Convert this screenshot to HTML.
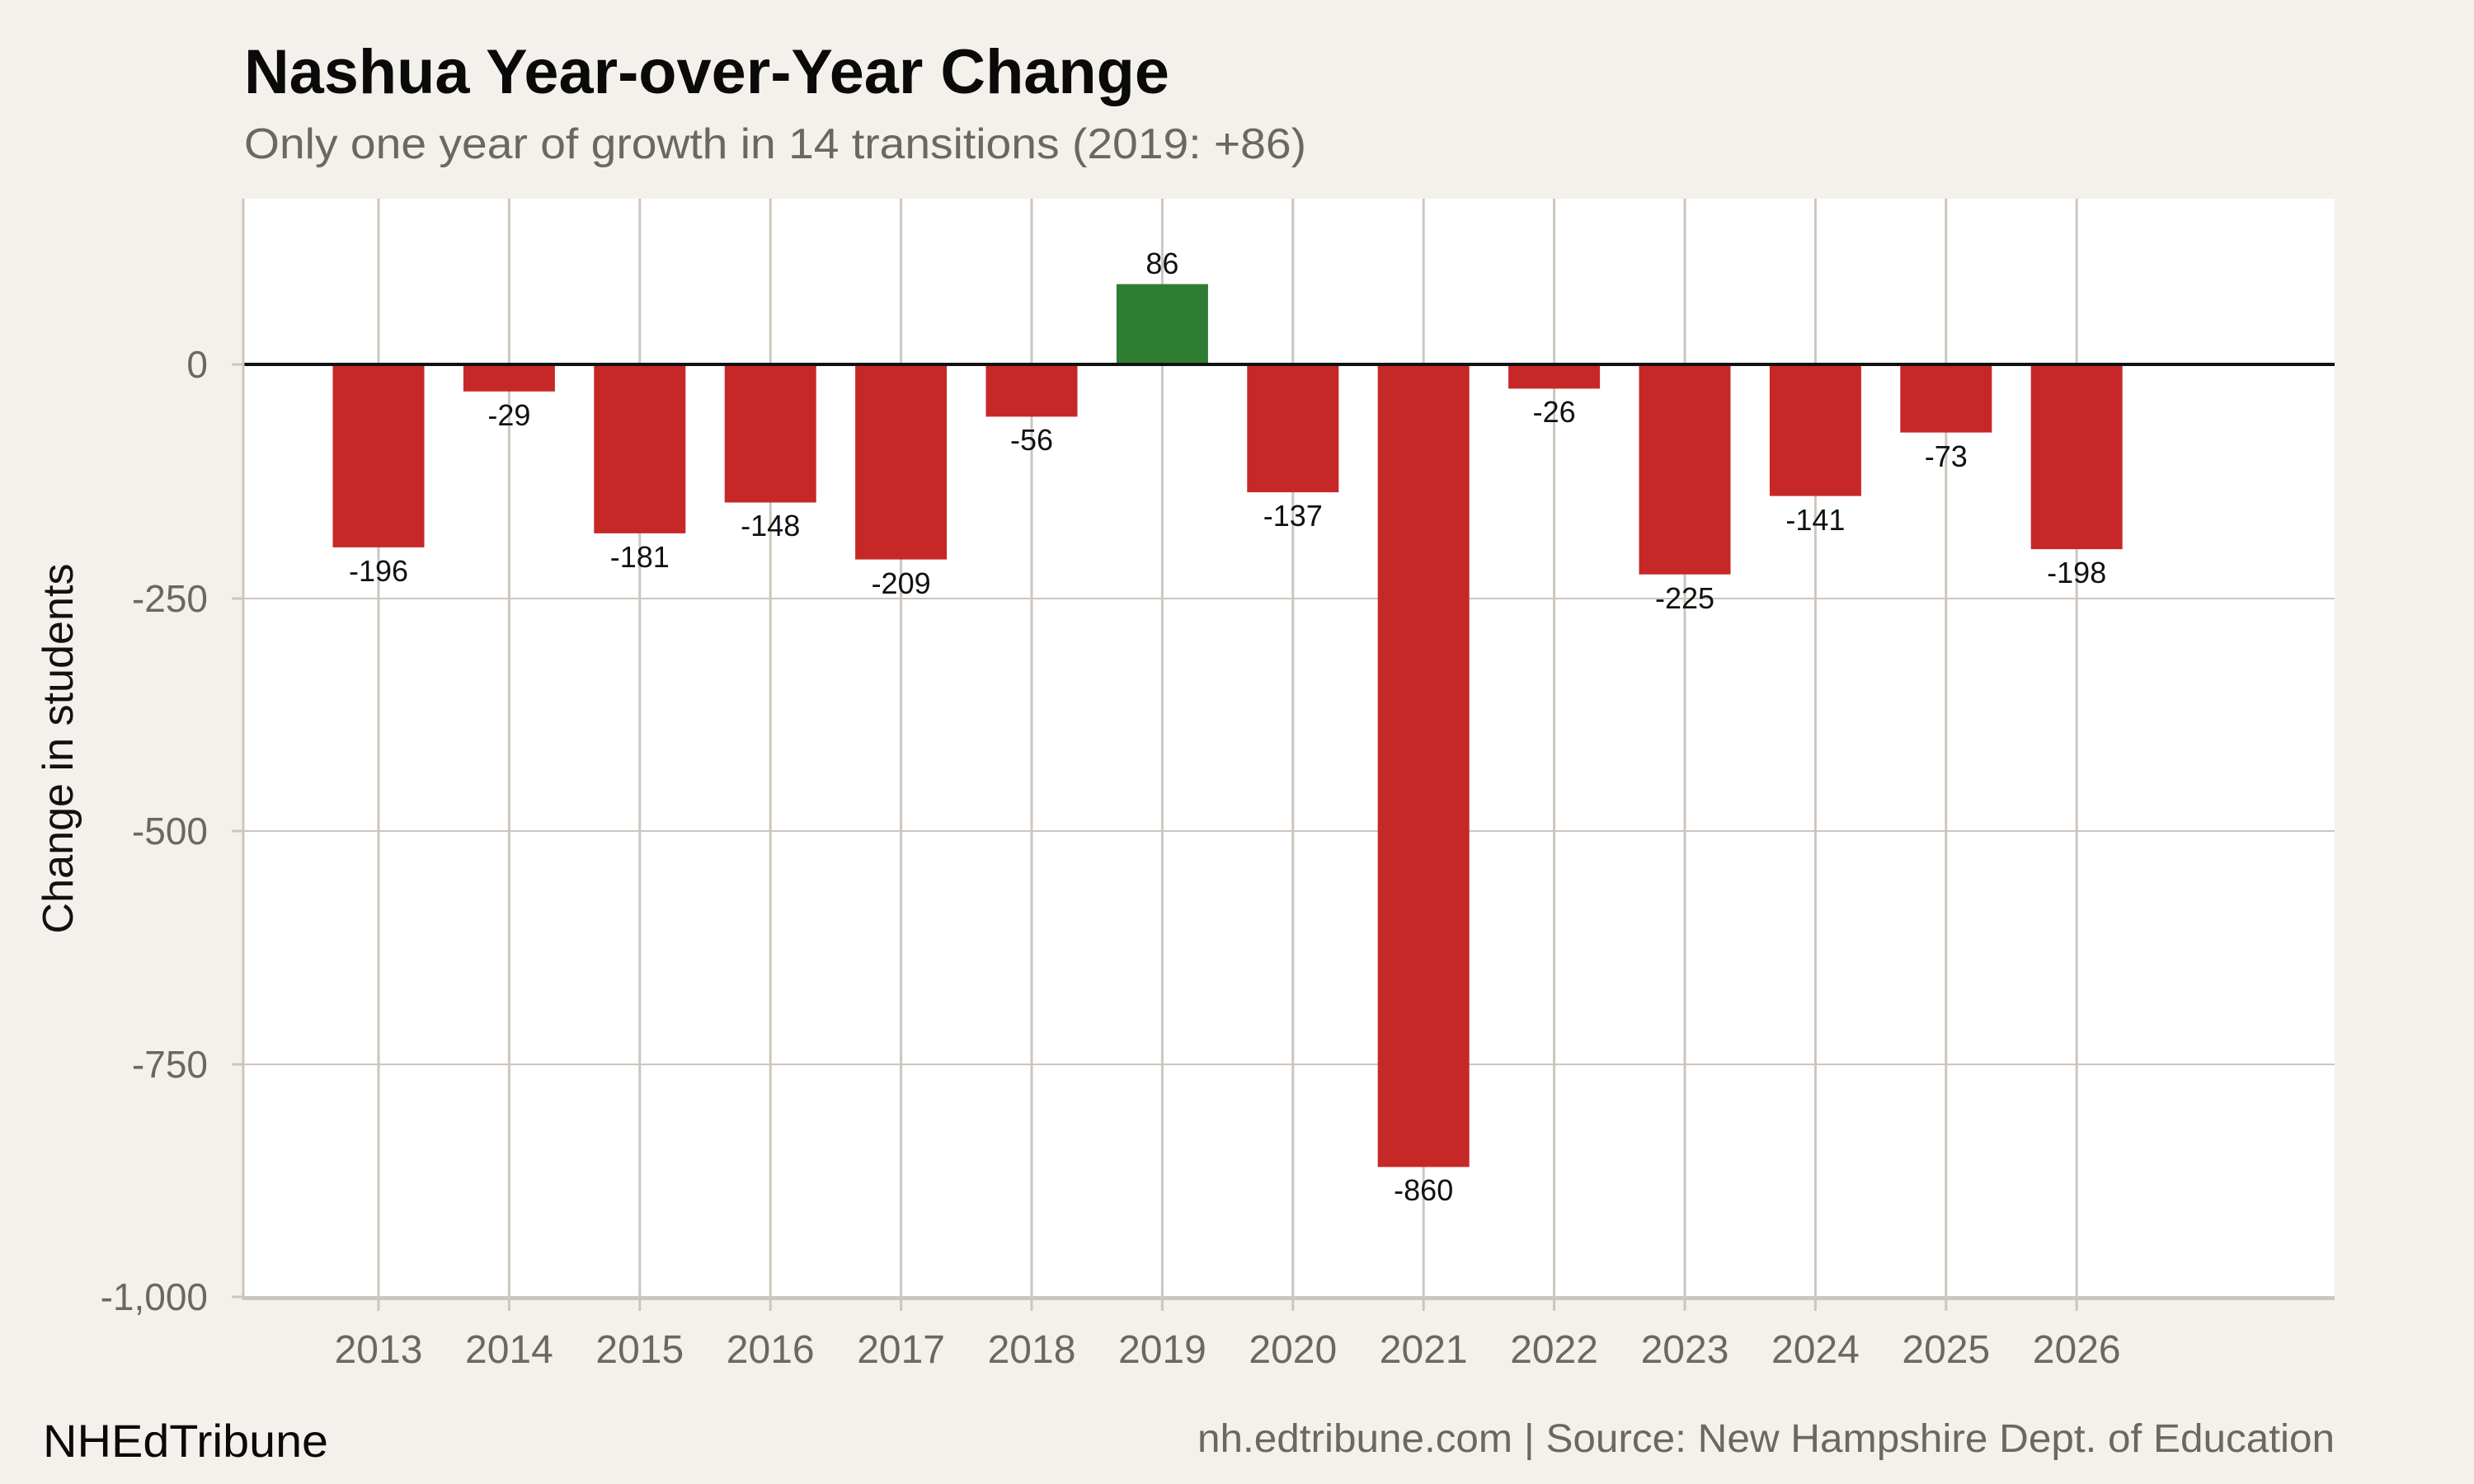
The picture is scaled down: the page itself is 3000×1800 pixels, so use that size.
<!DOCTYPE html>
<html><head><meta charset="utf-8"><style>
html,body{margin:0;padding:0;background:#f4f1ec;}
svg{display:block;font-family:"Liberation Sans",Arial,sans-serif;}
</style></head><body>
<svg width="3000" height="1800" viewBox="0 0 3000 1800" xmlns="http://www.w3.org/2000/svg">
<rect width="3000" height="1800" fill="#f4f1ec"/>
<text x="296" y="113" font-size="76" font-weight="bold" fill="#0a0a0a" textLength="1122" lengthAdjust="spacingAndGlyphs">Nashua Year-over-Year Change</text>
<text x="296" y="192" font-size="52" fill="#6b6862" textLength="1288" lengthAdjust="spacingAndGlyphs">Only one year of growth in 14 transitions (2019: +86)</text>
<rect x="296" y="241" width="2535" height="1333" fill="#ffffff"/>
<g stroke="#ccc6bd" stroke-width="2">
<line x1="296" y1="726" x2="2831" y2="726"/>
<line x1="296" y1="1008" x2="2831" y2="1008"/>
<line x1="296" y1="1291" x2="2831" y2="1291"/>
</g>
<g stroke="#ccc6bd" stroke-width="3">
<line x1="459" y1="241" x2="459" y2="1590"/>
<line x1="617.4" y1="241" x2="617.4" y2="1590"/>
<line x1="775.8" y1="241" x2="775.8" y2="1590"/>
<line x1="934.2" y1="241" x2="934.2" y2="1590"/>
<line x1="1092.6" y1="241" x2="1092.6" y2="1590"/>
<line x1="1251" y1="241" x2="1251" y2="1590"/>
<line x1="1409.4" y1="241" x2="1409.4" y2="1590"/>
<line x1="1567.8" y1="241" x2="1567.8" y2="1590"/>
<line x1="1726.2" y1="241" x2="1726.2" y2="1590"/>
<line x1="1884.6" y1="241" x2="1884.6" y2="1590"/>
<line x1="2043" y1="241" x2="2043" y2="1590"/>
<line x1="2201.4" y1="241" x2="2201.4" y2="1590"/>
<line x1="2359.8" y1="241" x2="2359.8" y2="1590"/>
<line x1="2518.2" y1="241" x2="2518.2" y2="1590"/>
</g>
<g fill="#c62828">
<rect x="403.5" y="442" width="111" height="221.9"/>
<rect x="561.9" y="442" width="111" height="32.8"/>
<rect x="720.3" y="442" width="111" height="204.9"/>
<rect x="878.7" y="442" width="111" height="167.5"/>
<rect x="1037.1" y="442" width="111" height="236.6"/>
<rect x="1195.5" y="442" width="111" height="63.4"/>
<rect x="1512.3" y="442" width="111" height="155.1"/>
<rect x="1670.7" y="442" width="111" height="973.5"/>
<rect x="1829.1" y="442" width="111" height="29.4"/>
<rect x="1987.5" y="442" width="111" height="254.7"/>
<rect x="2145.9" y="442" width="111" height="159.6"/>
<rect x="2304.3" y="442" width="111" height="82.6"/>
<rect x="2462.7" y="442" width="111" height="224.1"/>
</g>
<rect x="1353.9" y="344.6" width="111" height="97.4" fill="#2e7d32"/>
<line x1="296" y1="442" x2="2831" y2="442" stroke="#111" stroke-width="4"/>
<line x1="295" y1="241" x2="295" y2="1577" stroke="#ccc6bd" stroke-width="3"/>
<rect x="296" y="1572" width="2535" height="5" fill="#cdc6bc"/>
<g stroke="#ccc6bd" stroke-width="3">
<line x1="281" y1="442" x2="296" y2="442"/>
<line x1="281" y1="726" x2="296" y2="726"/>
<line x1="281" y1="1008" x2="296" y2="1008"/>
<line x1="281" y1="1291" x2="296" y2="1291"/>
<line x1="281" y1="1573" x2="296" y2="1573"/>
</g>
<g font-size="46" fill="#6b6862" text-anchor="end">
<text x="252" y="458">0</text>
<text x="252" y="742">-250</text>
<text x="252" y="1024">-500</text>
<text x="252" y="1307">-750</text>
<text x="252" y="1589">-1,000</text>
</g>
<text transform="translate(88,908) rotate(-90)" font-size="52" fill="#111" text-anchor="middle" textLength="449" lengthAdjust="spacingAndGlyphs">Change in students</text>
<g font-size="48" fill="#6b6862" text-anchor="middle">
<text x="459" y="1653">2013</text>
<text x="617.4" y="1653">2014</text>
<text x="775.8" y="1653">2015</text>
<text x="934.2" y="1653">2016</text>
<text x="1092.6" y="1653">2017</text>
<text x="1251" y="1653">2018</text>
<text x="1409.4" y="1653">2019</text>
<text x="1567.8" y="1653">2020</text>
<text x="1726.2" y="1653">2021</text>
<text x="1884.6" y="1653">2022</text>
<text x="2043" y="1653">2023</text>
<text x="2201.4" y="1653">2024</text>
<text x="2359.8" y="1653">2025</text>
<text x="2518.2" y="1653">2026</text>
</g>
<g font-size="36" fill="#111" text-anchor="middle">
<text x="459" y="705">-196</text>
<text x="617.4" y="516">-29</text>
<text x="775.8" y="688">-181</text>
<text x="934.2" y="650">-148</text>
<text x="1092.6" y="720">-209</text>
<text x="1251" y="546">-56</text>
<text x="1409.4" y="332">86</text>
<text x="1567.8" y="638">-137</text>
<text x="1726.2" y="1456">-860</text>
<text x="1884.6" y="512">-26</text>
<text x="2043" y="738">-225</text>
<text x="2201.4" y="643">-141</text>
<text x="2359.8" y="566">-73</text>
<text x="2518.2" y="707">-198</text>
</g>
<text x="52" y="1767" font-size="56" fill="#0a0a0a" textLength="346" lengthAdjust="spacingAndGlyphs">NHEdTribune</text>
<text x="2831" y="1761" font-size="48" fill="#6b6862" text-anchor="end" textLength="1379" lengthAdjust="spacingAndGlyphs">nh.edtribune.com | Source: New Hampshire Dept. of Education</text>
</svg>
</body></html>
